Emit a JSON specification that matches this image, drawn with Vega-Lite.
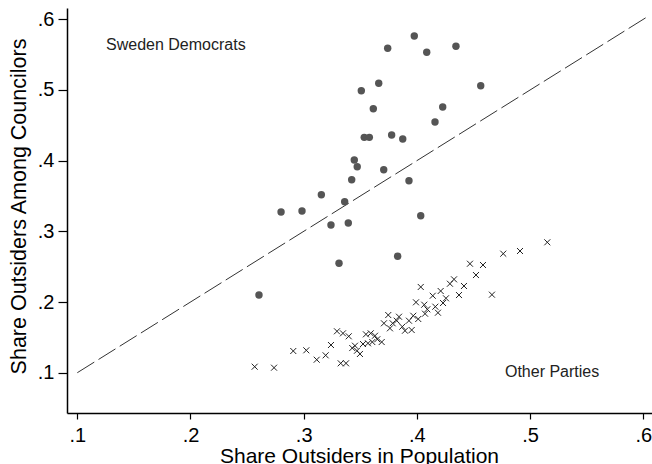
{
  "$schema": "https://vega.github.io/schema/vega-lite/v6.json",
  "autosize": "none",
  "width": 585,
  "height": 405,
  "padding": {"left": 67, "top": 8, "right": 0, "bottom": 51},
  "background": "white",
  "config": {
    "view": {"stroke": null},
    "font": "Liberation Sans",
    "axis": {
      "labelFont": "Liberation Sans", "titleFont": "Liberation Sans",
      "labelFontSize": 20, "titleFontSize": 21, "titleFontWeight": "normal",
      "labelColor": "#000", "titleColor": "#000",
      "domainColor": "#000", "tickColor": "#000", "domainWidth": 1.5, "tickWidth": 1.2,
      "grid": false
    }
  },
  "datasets": {
    "sd": [
      {"pop": 0.2605, "coun": 0.2099}, {"pop": 0.2800, "coun": 0.3274}, {"pop": 0.2985, "coun": 0.3288},
      {"pop": 0.3156, "coun": 0.3518}, {"pop": 0.3241, "coun": 0.3090}, {"pop": 0.3312, "coun": 0.2548},
      {"pop": 0.3362, "coun": 0.3419}, {"pop": 0.3394, "coun": 0.3118}, {"pop": 0.3424, "coun": 0.3731},
      {"pop": 0.3447, "coun": 0.4009}, {"pop": 0.3473, "coun": 0.3915}, {"pop": 0.3509, "coun": 0.4990},
      {"pop": 0.3535, "coun": 0.4330}, {"pop": 0.3580, "coun": 0.4330}, {"pop": 0.3615, "coun": 0.4735},
      {"pop": 0.3663, "coun": 0.5095}, {"pop": 0.3707, "coun": 0.3872}, {"pop": 0.3742, "coun": 0.5590},
      {"pop": 0.3777, "coun": 0.4363}, {"pop": 0.3830, "coun": 0.2647}, {"pop": 0.3875, "coun": 0.4306},
      {"pop": 0.3930, "coun": 0.3716}, {"pop": 0.3977, "coun": 0.5764}, {"pop": 0.4034, "coun": 0.3221},
      {"pop": 0.4087, "coun": 0.5533}, {"pop": 0.4160, "coun": 0.4547}, {"pop": 0.4228, "coun": 0.4759},
      {"pop": 0.4345, "coun": 0.5618}, {"pop": 0.4564, "coun": 0.5061}
    ],
    "other": [
      {"pop": 0.2567, "coun": 0.1085}, {"pop": 0.2738, "coun": 0.1071}, {"pop": 0.2908, "coun": 0.1307},
      {"pop": 0.3023, "coun": 0.1317}, {"pop": 0.3115, "coun": 0.1184}, {"pop": 0.3194, "coun": 0.1246},
      {"pop": 0.3241, "coun": 0.1392}, {"pop": 0.3294, "coun": 0.1586}, {"pop": 0.3347, "coun": 0.1557},
      {"pop": 0.3398, "coun": 0.1515}, {"pop": 0.3327, "coun": 0.1133}, {"pop": 0.3374, "coun": 0.1133},
      {"pop": 0.3429, "coun": 0.1349}, {"pop": 0.3453, "coun": 0.1382}, {"pop": 0.3471, "coun": 0.1311},
      {"pop": 0.3497, "coun": 0.1265}, {"pop": 0.3550, "coun": 0.1543}, {"pop": 0.3592, "coun": 0.1557},
      {"pop": 0.3630, "coun": 0.1523}, {"pop": 0.3524, "coun": 0.1406}, {"pop": 0.3568, "coun": 0.1416},
      {"pop": 0.3606, "coun": 0.1434}, {"pop": 0.3650, "coun": 0.1473}, {"pop": 0.3689, "coun": 0.1434},
      {"pop": 0.3709, "coun": 0.1699}, {"pop": 0.3747, "coun": 0.1816}, {"pop": 0.3786, "coun": 0.1699},
      {"pop": 0.3762, "coun": 0.1628}, {"pop": 0.3822, "coun": 0.1736}, {"pop": 0.3842, "coun": 0.1792},
      {"pop": 0.3871, "coun": 0.1651}, {"pop": 0.3895, "coun": 0.1594}, {"pop": 0.3954, "coun": 0.1604},
      {"pop": 0.3930, "coun": 0.1736}, {"pop": 0.3968, "coun": 0.1806}, {"pop": 0.4012, "coun": 0.1760},
      {"pop": 0.3992, "coun": 0.1996}, {"pop": 0.4034, "coun": 0.2213}, {"pop": 0.4065, "coun": 0.1962},
      {"pop": 0.4092, "coun": 0.1897}, {"pop": 0.4072, "coun": 0.1835}, {"pop": 0.4163, "coun": 0.1934},
      {"pop": 0.4186, "coun": 0.1849}, {"pop": 0.4140, "coun": 0.2089}, {"pop": 0.4210, "coun": 0.2156},
      {"pop": 0.4231, "coun": 0.1986}, {"pop": 0.4257, "coun": 0.2053}, {"pop": 0.4292, "coun": 0.2259},
      {"pop": 0.4328, "coun": 0.2321}, {"pop": 0.4372, "coun": 0.2099}, {"pop": 0.4416, "coun": 0.2227},
      {"pop": 0.4469, "coun": 0.2542}, {"pop": 0.4522, "coun": 0.2382}, {"pop": 0.4584, "coun": 0.2524},
      {"pop": 0.4663, "coun": 0.2104}, {"pop": 0.4763, "coun": 0.2684}, {"pop": 0.4911, "coun": 0.2722},
      {"pop": 0.5152, "coun": 0.2845}
    ],
    "diag": [{"pop": 0.1, "coun": 0.1}, {"pop": 0.605, "coun": 0.605}],
    "labels": [
      {"pop": 0.1254, "coun": 0.5636, "label": "Sweden Democrats"},
      {"pop": 0.4778, "coun": 0.1010, "label": "Other Parties"}
    ]
  },
  "encoding": {
    "x": {
      "field": "pop", "type": "quantitative",
      "scale": {"domain": [0.0909, 0.6077], "nice": false, "zero": false},
      "axis": {
        "title": "Share Outsiders in Population",
        "values": [0.1, 0.2, 0.3, 0.4, 0.5, 0.6],
        "labelExpr": "substring(format(datum.value, '.1f'), 1)",
        "tickSize": 6, "labelPadding": 6,
        "titleX": 292, "titleY": 49, "titleBaseline": "alphabetic", "titleAlign": "center"
      }
    },
    "y": {
      "field": "coun", "type": "quantitative",
      "scale": {"domain": [0.043, 0.616], "nice": false, "zero": false},
      "axis": {
        "title": "Share Outsiders Among Councilors",
        "values": [0.1, 0.2, 0.3, 0.4, 0.5, 0.6],
        "labelExpr": "substring(format(datum.value, '.1f'), 1)",
        "tickSize": 9, "labelPadding": 4, "titleFontSize": 21.5,
        "titleX": -42, "titleY": 198, "titleBaseline": "alphabetic", "titleAlign": "center", "titleAngle": -90
      }
    }
  },
  "layer": [
    {
      "mark": {"type": "rule", "color": "#000", "strokeWidth": 1.2},
      "encoding": {"y": {"datum": 0.616}, "x": null}
    },
    {
      "data": {"name": "diag"},
      "mark": {"type": "line", "color": "#333", "strokeWidth": 1, "strokeDash": [20, 5]}
    },
    {
      "data": {"name": "sd"},
      "mark": {"type": "point", "shape": "circle", "filled": true, "color": "#555", "opacity": 1, "size": 55}
    },
    {
      "data": {"name": "other"},
      "mark": {"type": "point", "shape": "M-1,-1L1,1M-1,1L1,-1", "filled": false, "color": "#222", "opacity": 1, "size": 36, "strokeWidth": 1}
    },
    {
      "data": {"name": "labels"},
      "mark": {"type": "text", "align": "left", "baseline": "middle", "fontSize": 16, "color": "#222", "font": "Liberation Sans"},
      "encoding": {"text": {"field": "label"}}
    }
  ]
}
